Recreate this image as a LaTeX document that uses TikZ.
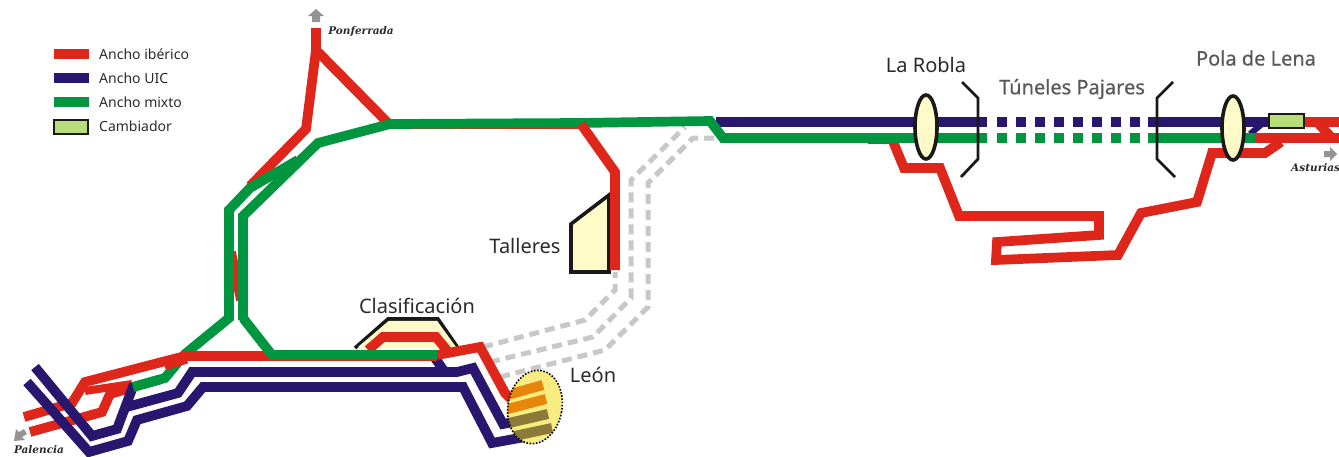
\documentclass[tikz,border=0pt]{standalone}
\usepackage{fontspec}
\setmainfont{Noto Sans}
\newfontfamily\cityfont{DejaVu Serif}
\newfontfamily\shadowfont[FakeBold=0.6]{Noto Sans}
\definecolor{rd}{HTML}{DF261B}
\definecolor{nv}{HTML}{29166F}
\definecolor{gn}{HTML}{00963F}
\definecolor{gy}{HTML}{C8C8C8}
\definecolor{cream}{HTML}{FFFBC8}
\definecolor{lime}{HTML}{B8DC78}
\definecolor{txt}{HTML}{2A2A2A}
\tikzset{
 rail/.style={line width=9.7pt,miter limit=10},
 redr/.style={rail,draw=rd},
 navyr/.style={rail,draw=nv},
 greenr/.style={rail,draw=gn},
 ghost/.style={line width=5pt,draw=gy,dash pattern=on 10pt off 6pt},
 blackbox/.style={draw=black!90,line width=3.6pt,fill=cream},
 bracketl/.style={draw=black!90,line width=2.8pt},
 legendt/.style={anchor=west,text=txt,font=\fontsize{14}{16}\selectfont,inner sep=0pt},
 place/.style={text=txt,font=\fontsize{20}{24}\selectfont,inner sep=0pt},
 grayplace/.style={text=black!65,font=\shadowfont\fontsize{20}{24}\selectfont,inner sep=0pt},
 city/.style={text=txt,font=\cityfont\bfseries\itshape\fontsize{10.5}{12}\selectfont,inner sep=0pt},
 pointer/.style={fill=black!42,draw=none},
}
\begin{document}
\begin{tikzpicture}[x=1pt,y=-1pt]
\useasboundingbox (0,0) rectangle (1339,456);
% legend
\fill[rd] (54,49) rectangle (89,59);
\fill[nv] (54,73) rectangle (89,83);
\fill[gn] (54,97) rectangle (89,107);
\draw[draw=black!90,line width=2.8pt,fill=lime] (54,120) rectangle (88,134);
\node[legendt] (l1) at (99,54) {Ancho ibérico};
\node[legendt] (l2) at (99,78) {Ancho UIC};
\node[legendt] (l3) at (99,102) {Ancho mixto};
\node[legendt] (l4) at (99,126) {Cambiador};
% ghost lines
\draw[ghost] (483,347) -- (585,320) -- (615,290) -- (615,272);
\draw[ghost] (490,362) -- (593,337) -- (631,298) -- (631,180) -- (685,127);
\draw[ghost] (500,377) -- (605,350) -- (648,307) -- (648,183) -- (693,138) -- (717,138);
% Clasificacion
\draw[blackbox] (355,348) -- (388,319) -- (438,319) -- (458,348);
\fill[cream] (358,347) -- (389,320.8) -- (437,320.8) -- (456,347) -- cycle;
% Talleres
\draw[blackbox,miter limit=10] (571,224) -- (609,195) -- (609,272) -- (571,272) -- cycle;
% navy, right of the left junction
\draw[navyr] (435,358) -- (444,371);
\draw[navyr] (716,122) -- (987,122);
\draw[navyr,dash pattern=on 9.5pt off 9.5pt] (997,122) -- (1144,122);
\draw[navyr] (1148,122) -- (1270,122);
\draw[navyr,line width=6pt] (1250,134) -- (1262,124);
% green lying below the red
\draw[greenr] (133,387) -- (165,378) -- (185,354) -- (229,318) -- (229,300);
% red
\draw[redr] (316,28) -- (316,55);
\draw[redr] (316,50) -- (306,129) -- (250,186);
\draw[redr] (318,52) -- (389,124);
\draw[redr] (390,124.5) -- (578,124.5);
\draw[redr] (231,252) -- (241,300);
\draw[redr] (24,417) -- (72,403) -- (85,382) -- (185,356) -- (437,356);
\draw[redr] (30,432) -- (102,412) -- (110,394) -- (134,387);
\draw[redr,line width=8pt] (85,391) -- (132,384);
\draw[redr,line width=7pt] (165,367) -- (187,360);
\draw[redr] (368,350) -- (383,337) -- (436,337) -- (450,354);
\draw[redr] (437,355) -- (480,347) -- (505,393) -- (512,400);
\draw[redr] (868,139) -- (892,139) -- (904,168) -- (940,168) -- (959,216) -- (1099,216) -- (1099,235) -- (997,242) -- (996,260) -- (1118,255) -- (1141,213) -- (1197,202) -- (1212,153) -- (1265,153) -- (1281,142);
% navy crossing over the red
\draw[navyr] (35,367) -- (92,436) -- (117,429) -- (134,384);
\draw[navyr] (123,408) -- (178,393) -- (192,372) -- (457,372) -- (473,368) -- (503,424) -- (520,421);
\draw[navyr] (27,382) -- (89,452) -- (128,441) -- (137,420) -- (187,406) -- (203,387) -- (463,387) -- (492,443) -- (525,437);
% green above
\draw[greenr] (133,387) -- (160,379.5);
\draw[greenr] (229,318) -- (229,210) -- (250,188) -- (298,160);
\draw[greenr] (243,320) -- (243,216) -- (318,143) -- (390,124) -- (578,123) -- (710,121) -- (723,138) -- (987,138);
\draw[greenr] (243,318) -- (272,355) -- (437,355);
\draw[greenr,dash pattern=on 9.5pt off 9.5pt] (997,138) -- (1144,138);
\draw[greenr] (1148,138) -- (1256,138);
% red over green
\draw[redr] (581,124) -- (615,172) -- (615,270);
\draw[redr] (1255,138) -- (1339,138);
\draw[redr] (1304,122) -- (1339,122);
\draw[redr] (1317,122) -- (1331,137);
% cambiador
\draw[draw=black!90,line width=2.8pt,fill=lime] (1269,114) rectangle (1304,128);
% stations
\draw[blackbox] (926,127) ellipse [x radius=11,y radius=32];
\draw[blackbox] (1233,128) ellipse [x radius=11,y radius=32];
\draw[bracketl] (962,82) -- (978,98) -- (978,159) -- (961,177);
\draw[bracketl] (1173,82) -- (1157,98) -- (1157,159) -- (1175,177);
% Leon
\begin{scope}
\clip[rotate around={-10:(535,407)}] (535,407) ellipse [x radius=27,y radius=37];
\fill[rotate around={-10:(535,407)},fill={rgb,255:red,248;green,236;blue,128}] (535,407) ellipse [x radius=27,y radius=37];
\draw[line width=10pt,draw={rgb,255:red,232;green,134;blue,12}] (500,397) -- (543,385);
\draw[line width=10pt,draw={rgb,255:red,232;green,134;blue,12}] (500,411) -- (546,399);
\draw[line width=10pt,draw={rgb,255:red,140;green,122;blue,56}] (500,425) -- (548,414);
\draw[line width=10pt,draw={rgb,255:red,140;green,122;blue,56}] (505,438) -- (552,428);
\end{scope}
\draw[rotate around={-10:(535,407)},draw=black,line width=1.6pt,dash pattern=on 1.6pt off 1.6pt] (535,407) ellipse [x radius=27,y radius=37];
% arrows
\fill[pointer] (316,9) -- (324,16) -- (320,16) -- (320,22) -- (312,22) -- (312,16) -- (308,16) -- cycle;
\fill[pointer] (1337,154) -- (1330,147) -- (1330,151) -- (1324,151) -- (1324,157) -- (1330,157) -- (1330,161) -- cycle;
\fill[pointer] (14,441) -- (16,429) -- (19,432) -- (24,429) -- (27,434) -- (22,437) -- (25,440) -- cycle;
% labels
\node[place] (clas) at (417,306) {Clasificación};
\node[place] (talleres) at (525,246) {Talleres};
\node[place] (leon) at (593,375) {León};
\node[place] (robla) at (926,65) {La Robla};
\node[grayplace] (tunel) at (1072,89) {Túneles Pajares};
\node[grayplace] (pola) at (1256,58) {Pola de Lena};
\node[city] (ponf) at (361,32) {Ponferrada};
\node[city] (pal) at (39,450) {Palencia};
\node[city,anchor=west] (ast) at (1291,168) {Asturias};
\end{tikzpicture}
\end{document}
